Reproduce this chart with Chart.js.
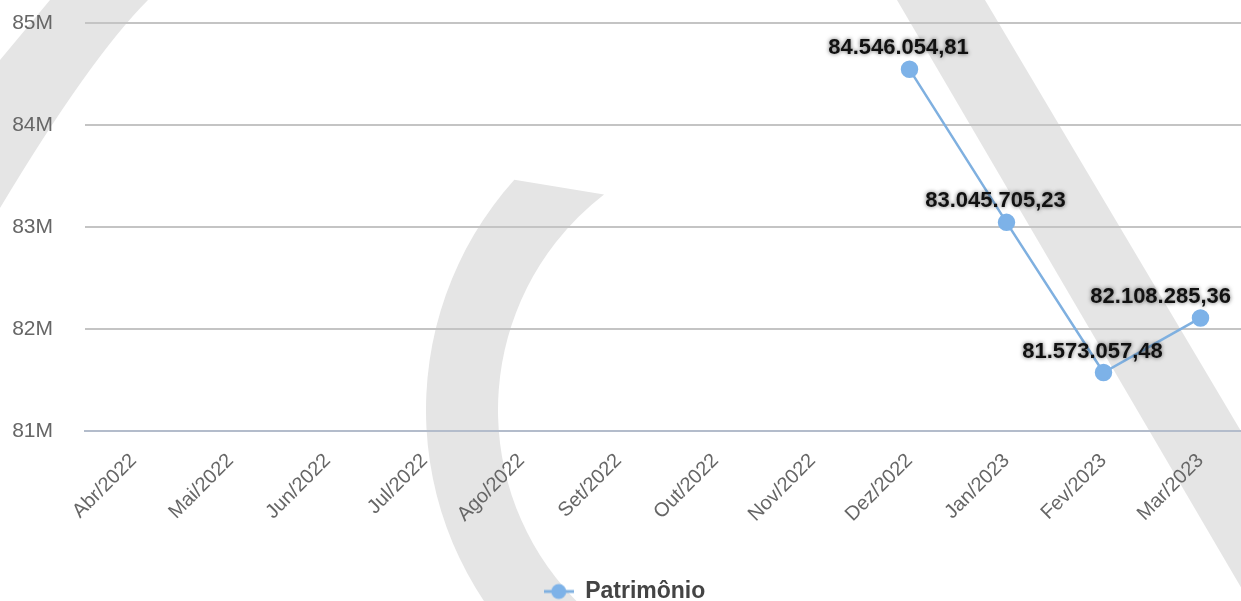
<!DOCTYPE html>
<html>
<head>
<meta charset="utf-8">
<script src="https://cdn.jsdelivr.net/npm/chart.js@4"></script>
<style>
html,body{margin:0;padding:0;background:#fff;overflow:hidden;}
#wrap{width:1241px;height:601px;overflow:hidden;position:relative;}
#patrimonioChart{position:absolute;left:0;top:0;}
</style>
</head>
<body>
<div id="wrap"><canvas id="patrimonioChart" width="1259" height="613"></canvas></div>
<script>
const meses = ['Abr/2022','Mai/2022','Jun/2022','Jul/2022','Ago/2022','Set/2022','Out/2022','Nov/2022','Dez/2022','Jan/2023','Fev/2023','Mar/2023'];
const patrimonio = [null,null,null,null,null,null,null,null,84546054.81,83045705.23,81573057.48,82108285.36];
const eixoMin = 81000000;
const eixoMax = 85000000;
const eixoPasso = 1000000;

const corLinha = '#7fb0e0';
const corPonto = '#7db2e8';

Chart.defaults.font.family = '"Liberation Sans", Arial, sans-serif';

function formatBR(v){
  const partes = v.toFixed(2).split('.');
  return partes[0].replace(/\B(?=(\d{3})+(?!\d))/g, '.') + ',' + partes[1];
}

// icone da legenda: traço com bolinha no meio
const iconeLegenda = document.createElement('canvas');
iconeLegenda.width = 30;
iconeLegenda.height = 18;
const ic = iconeLegenda.getContext('2d');
ic.strokeStyle = corLinha;
ic.lineWidth = 3;
ic.beginPath(); ic.moveTo(0,9); ic.lineTo(30,9); ic.stroke();
ic.fillStyle = corPonto;
ic.beginPath(); ic.arc(15,9,7.5,0,Math.PI*2); ic.fill();

// marca d'agua cinza no fundo
const marcaDagua = {
  id: 'marcaDagua',
  beforeDraw(chart){
    const c = chart.ctx;
    const rad = d => d*Math.PI/180;
    c.save();
    c.fillStyle = '#fff';
    c.fillRect(0,0,chart.width,chart.height);
    c.fillStyle = '#e5e5e5';
    c.beginPath();
    c.moveTo(50,0); c.lineTo(148,0);
    c.quadraticCurveTo(90,58,0,208);
    c.lineTo(0,60);
    c.closePath(); c.fill();
    c.beginPath();
    c.arc(770,410,344,rad(-138),rad(-232),true);
    c.arc(770,410,272,rad(-232),rad(-127.6),false);
    c.closePath(); c.fill();
    c.beginPath();
    c.moveTo(897,0); c.lineTo(985,0); c.lineTo(1349,613); c.lineTo(1256,613);
    c.closePath(); c.fill();
    c.restore();
  }
};

// legenda centrada na parte visivel do canvas
const ajusteLegenda = {
  id: 'ajusteLegenda',
  afterLayout(chart){
    if (chart.legend) {
      chart.legend.left -= 5;
      chart.legend.right -= 5;
    }
  }
};

// valores escritos acima de cada ponto
const rotulos = {
  id: 'rotulos',
  afterDatasetsDraw(chart){
    const c = chart.ctx;
    const meta = chart.getDatasetMeta(0);
    c.save();
    c.font = 'bold 22px "Liberation Sans", Arial, sans-serif';
    c.textAlign = 'center';
    c.textBaseline = 'middle';
    c.shadowColor = 'rgba(0,0,0,0.6)';
    c.shadowBlur = 4;
    c.fillStyle = '#111';
    meta.data.forEach((pt, i) => {
      const v = patrimonio[i];
      if (v == null) return;
      const txt = formatBR(v);
      const w = c.measureText(txt).width;
      const x = Math.min(pt.x - 11, 1231 - w/2);
      c.fillText(txt, x, pt.y - 21);
    });
    c.restore();
  }
};

const ctx = document.getElementById('patrimonioChart');
new Chart(ctx, {
  type: 'line',
  data: {
    labels: meses,
    datasets: [{
      label: 'Patrimônio',
      data: patrimonio,
      borderColor: corLinha,
      backgroundColor: corPonto,
      pointBackgroundColor: corPonto,
      pointBorderColor: corPonto,
      pointRadius: 7.5,
      borderWidth: 2.5,
      tension: 0,
      fill: false
    }]
  },
  options: {
    responsive: false,
    animation: false,
    layout: { padding: { top: 23, left: 0, right: 0, bottom: 0 } },
    plugins: {
      legend: {
        position: 'bottom',
        labels: {
          usePointStyle: true,
          pointStyle: iconeLegenda,
          pointStyleWidth: 30,
          padding: 0,
          color: '#444',
          font: { size: 23, weight: 'bold' }
        }
      },
      tooltip: { enabled: false }
    },
    scales: {
      x: {
        offset: true,
        grid: { drawOnChartArea: false, drawTicks: false },
        border: { color: '#b3bccb', width: 2 },
        ticks: { maxRotation: 45, minRotation: 45, padding: 18, color: '#666', font: { size: 20 } },
        afterFit(s){ s.height = 149; s.paddingLeft = 0; s.paddingRight = 0; }
      },
      y: {
        min: eixoMin,
        max: eixoMax,
        ticks: { stepSize: eixoPasso, padding: 0, color: '#666', font: { size: 21 }, callback: v => (v/1000000) + 'M' },
        grid: { color: '#c4c4c4', lineWidth: 2, drawTicks: true, tickLength: 32, tickColor: 'rgba(0,0,0,0)' },
        border: { display: false },
        afterFit(s){ s.width = 85; }
      }
    }
  },
  plugins: [marcaDagua, ajusteLegenda, rotulos]
});
</script>
</body>
</html>
